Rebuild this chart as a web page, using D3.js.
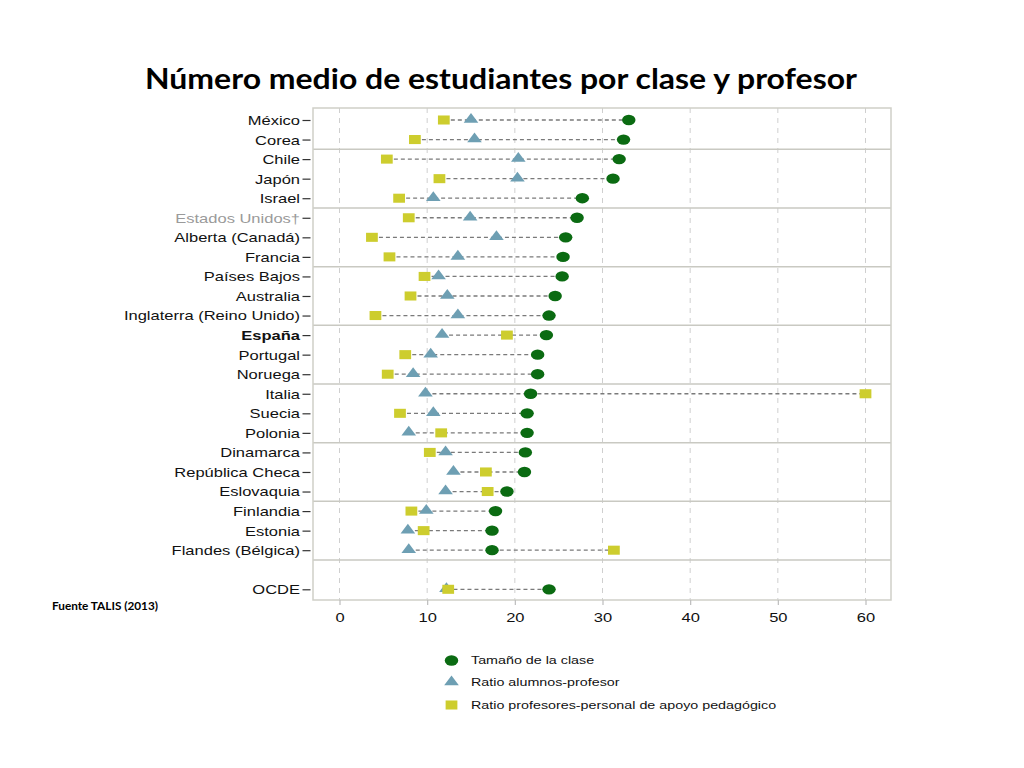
<!DOCTYPE html>
<html><head><meta charset="utf-8">
<script src="https://cdn.jsdelivr.net/npm/d3@7"></script>
<style>body{margin:0;background:#fff}svg{display:block}</style>
</head><body>
<script>
const countries = ["México","Corea","Chile","Japón","Israel","Estados Unidos†","Alberta (Canadá)","Francia","Países Bajos","Australia","Inglaterra (Reino Unido)","España","Portugal","Noruega","Italia","Suecia","Polonia","Dinamarca","República Checa","Eslovaquia","Finlandia","Estonia","Flandes (Bélgica)","OCDE"];
const classSize   = [33.0,32.4,31.9,31.2,27.7,27.1,25.8,25.5,25.4,24.6,23.9,23.6,22.6,22.6,21.8,21.4,21.4,21.2,21.1,19.1,17.8,17.4,17.4,23.9];
const ratioAlumnos= [15.0,15.4,20.4,20.3,10.7,14.9,17.9,13.5,11.3,12.3,13.5,11.7,10.4,8.4,9.8,10.7,7.9,12.1,13.0,12.1,9.9,7.8,7.9,12.2];
const ratioApoyo  = [11.9,8.6,5.4,11.4,6.8,7.9,3.7,5.7,9.7,8.1,4.1,19.1,7.5,5.5,60.0,6.9,11.6,10.3,16.7,16.9,8.2,9.6,31.3,12.4];
const xTicks = [0,10,20,30,40,50,60];
const groupEnds = ["Corea","Israel","Francia","Inglaterra (Reino Unido)","Noruega","Polonia","Eslovaquia","Flandes (Bélgica)"];
const seriesNames = ["Tamaño de la clase","Ratio alumnos-profesor","Ratio profesores-personal de apoyo pedagógico"];
const titleText = "Número medio de estudiantes por clase y profesor";
const sourceText = "Fuente TALIS (2013)";

const W=1024,H=768, SX=1.3;
const frame={l:313,r:891,t:108,b:600};
const cGreen="#0b6b12", cBlue="#6e9fb3", cYellow="#cdcd2e";

const svg=d3.select("body").append("svg").attr("width",W).attr("height",H);

const rows = countries.slice(0,23).concat([" "]).concat(countries.slice(23));
const x=d3.scaleLinear().domain([0,60]).range([339.5,865.5]);
const y=d3.scalePoint().domain(rows).range([120,589.3]);

// title
svg.append("text").attr("x",145).attr("y",89).attr("textLength",712).attr("lengthAdjust","spacingAndGlyphs")
  .style("font-family","Lato, 'Open Sans', sans-serif").style("font-weight","700").style("font-size","28px").attr("fill","#000").text(titleText);
svg.append("text").attr("x",52).attr("y",610).attr("textLength",106).attr("lengthAdjust","spacingAndGlyphs")
  .style("font-family","Lato, 'Open Sans', sans-serif").style("font-weight","700").style("font-size","11px").attr("fill","#000").text(sourceText);

// gridlines
svg.append("g").selectAll("line").data(xTicks).join("line")
  .attr("x1",d=>x(d)).attr("x2",d=>x(d)).attr("y1",frame.t).attr("y2",frame.b)
  .attr("stroke","#cfcfcf").attr("stroke-width",1).attr("stroke-dasharray","5,5");

// separators
const step=y.step();
svg.append("g").selectAll("line").data(groupEnds).join("line")
  .attr("x1",frame.l).attr("x2",frame.r).attr("y1",d=>y(d)+step/2).attr("y2",d=>y(d)+step/2)
  .attr("stroke","#c9c9c2").attr("stroke-width",1.5);

// frame
svg.append("rect").attr("x",frame.l).attr("y",frame.t).attr("width",frame.r-frame.l).attr("height",frame.b-frame.t)
  .attr("fill","none").attr("stroke","#cfcfc8").attr("stroke-width",1.5);

const data=countries.map((c,i)=>({c,a:classSize[i],b:ratioAlumnos[i],s:ratioApoyo[i]}));

// dashed connectors
svg.append("g").selectAll("line").data(data).join("line")
  .attr("x1",d=>x(Math.min(d.a,d.b,d.s))).attr("x2",d=>x(Math.max(d.a,d.b,d.s)))
  .attr("y1",d=>y(d.c)).attr("y2",d=>y(d.c))
  .attr("stroke","#7a7a7a").attr("stroke-width",1.3).attr("stroke-dasharray","4,3");

const tri=d3.symbol().type(d3.symbolTriangle).size(55)();
const sq=d3.symbol().type(d3.symbolSquare).size(82)();
const circ=d3.symbol().type(d3.symbolCircle).size(84)();

svg.append("g").selectAll("path").data(data).join("path").attr("d",tri)
  .attr("transform",d=>`translate(${x(d.b)},${y(d.c)-0.5}) scale(${SX},1)`).attr("fill",cBlue);
svg.append("g").selectAll("path").data(data).join("path").attr("d",sq)
  .attr("transform",d=>`translate(${x(d.s)},${y(d.c)}) scale(${SX},1)`).attr("fill",cYellow);
svg.append("g").selectAll("path").data(data).join("path").attr("d",circ)
  .attr("transform",d=>`translate(${x(d.a)},${y(d.c)}) scale(${SX},1)`).attr("fill",cGreen);

// left axis
const yAxis=svg.append("g").attr("transform",`translate(310.5,0)`)
  .call(d3.axisLeft(y).tickValues(countries).tickSize(8).tickPadding(2));
yAxis.select(".domain").remove();
yAxis.selectAll(".tick line").attr("stroke","#333").attr("stroke-width",1.2);
yAxis.selectAll(".tick text")
  .attr("x",0).attr("dy","0.35em")
  .attr("transform",`translate(-10.5,0) scale(${SX},1)`)
  .style("font-family","'Liberation Sans', Arial, sans-serif").style("font-size","12.7px")
  .attr("fill",d=>d==="Estados Unidos†"?"#9a9a9a":"#111")
  .style("font-weight",d=>d==="España"?"700":"400");

// bottom axis
const xAxis=svg.append("g").attr("transform",`translate(0,${frame.b})`)
  .call(d3.axisBottom(x).tickValues(xTicks).tickSize(5).tickFormat(d3.format("d")));
xAxis.select(".domain").remove();
xAxis.selectAll(".tick line").attr("stroke","#bdbdbd").attr("stroke-width",1.2);
xAxis.selectAll(".tick text").attr("y",12.5).attr("dy","0.71em")
  .attr("transform",`scale(${SX},1)`)
  .style("font-family","'Liberation Sans', Arial, sans-serif").style("font-size","12.7px").attr("fill","#111");

// legend
const legY=[660.5,682.5,705];
const legShapes=[circ,tri,sq], legCols=[cGreen,cBlue,cYellow];
const leg=svg.append("g");
seriesNames.forEach((n,i)=>{
  leg.append("path").attr("d",legShapes[i]).attr("fill",legCols[i])
    .attr("transform",`translate(451.5,${legY[i]-(i===1?0.5:0)}) scale(${SX},1)`);
  leg.append("text").attr("transform",`translate(471,${legY[i]}) scale(${SX},1)`).attr("dy","0.35em")
    .style("font-family","'Liberation Sans', Arial, sans-serif").style("font-size","11px").attr("fill","#111").text(n);
});
</script>
</body></html>
